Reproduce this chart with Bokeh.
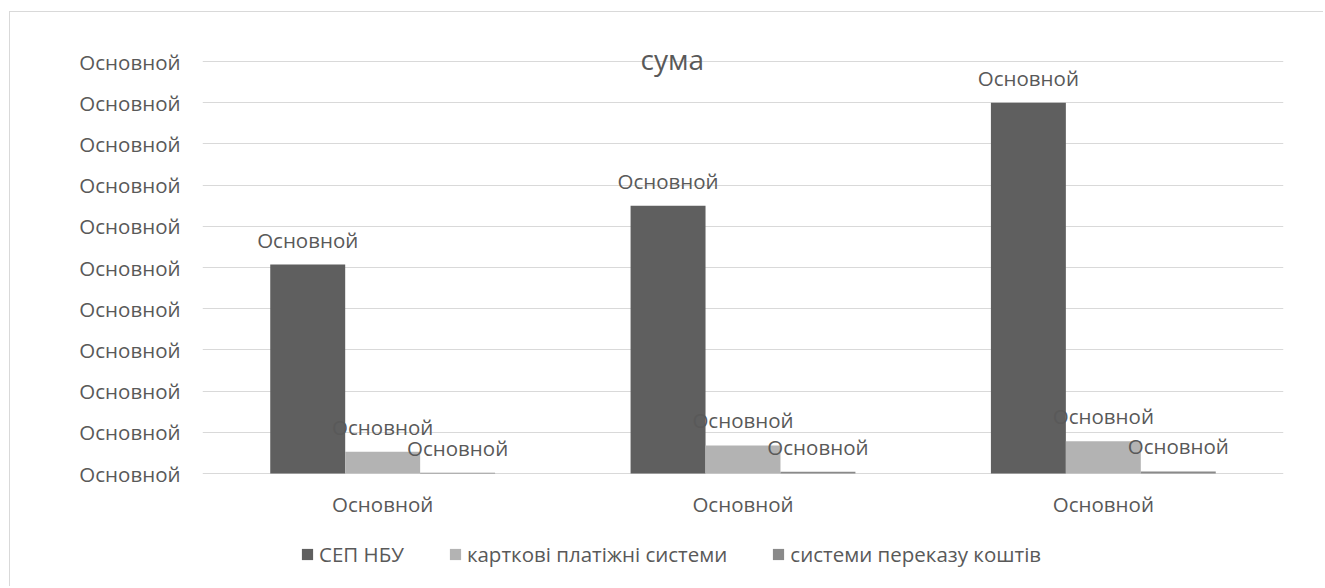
from bokeh.plotting import figure
from bokeh.models import Range1d, FixedTicker, ColumnDataSource, LabelSet, Label, Legend, LegendItem
from bokeh.embed import file_html
from bokeh.resources import INLINE
from bokeh.core.properties import value

# ---- data ----
categories = ["Основной", "Основной", "Основной"]
series_names = ["СЕП НБУ", "карткові платіжні системи", "системи переказу коштів"]
sep_nbu = [5.07, 6.50, 9.00]
card_systems = [0.53, 0.68, 0.78]
transfer_systems = [0.02, 0.04, 0.05]
y_ticks = [0, 1, 2, 3, 4, 5, 6, 7, 8, 9, 10]
y_tick_labels = ["Основной"] * 11
data_label = "Основной"
title_text = "сума"

colors = ["#5f5f5f", "#b3b3b3", "#8a8a8a"]
text_color = "#595959"
FONT = "Open Sans"
FS = "20.5px"

# ---- layout (pixels, canvas coordinates) ----
W, H = 1314, 575
LEFT, RIGHT, TOP = 192, 41, 0
Y10_PX, Y0_PX = 49, 461          # pixel rows of value 10 and value 0
ppu = (Y0_PX - Y10_PX) / 10.0      # pixels per unit
y_top = 10 + (Y10_PX - TOP) / ppu
y_bot = -(H - Y0_PX) / ppu

p = figure(width=W, height=H, output_backend="svg", toolbar_location=None,
           x_range=Range1d(0, 3), y_range=Range1d(y_bot, y_top),
           min_border_left=LEFT, min_border_right=RIGHT, min_border_top=TOP,
           min_border_bottom=0)
p.margin = (11, 0, 0, 9)
p.styles = {"border-top": "1px solid #d9d9d9", "border-left": "1px solid #d9d9d9"}
p.outline_line_color = None
p.background_fill_color = "white"

xs = [i + 0.5 for i in range(len(categories))]
bw = 0.208
offsets = [-bw, 0.0, bw]
all_series = [sep_nbu, card_systems, transfer_systems]

items = []
for k, (vals, name, col) in enumerate(zip(all_series, series_names, colors)):
    src = ColumnDataSource(dict(x=[x + offsets[k] for x in xs], top=vals,
                                lab=[data_label] * len(vals)))
    r = p.vbar(x="x", top="top", width=bw, source=src, fill_color=col, line_color=None)
    items.append(LegendItem(label=name, renderers=[r]))
    ls = LabelSet(x="x", y="top", text="lab", source=src, text_align="center",
                  text_baseline="bottom", y_offset=11, text_font=value(FONT),
                  text_font_size=FS, text_color=text_color)
    p.add_layout(ls)

# category labels under the groups
cat_src = ColumnDataSource(dict(x=xs, y=[0] * len(xs), lab=categories))
p.add_layout(LabelSet(x="x", y="y", text="lab", source=cat_src, text_align="center",
                      text_baseline="middle", y_offset=-30, text_font=value(FONT),
                      text_font_size=FS, text_color=text_color))
p.xaxis.visible = False

# y axis
p.yaxis.ticker = FixedTicker(ticks=y_ticks)
p.yaxis.major_label_overrides = {t: l for t, l in zip(y_ticks, y_tick_labels)}
p.yaxis.axis_line_color = None
p.yaxis.major_tick_line_color = None
p.yaxis.minor_tick_line_color = None
p.yaxis.major_label_standoff = 16
p.yaxis.major_label_text_font = FONT
p.yaxis.major_label_text_font_size = FS
p.yaxis.major_label_text_color = text_color

p.xgrid.grid_line_color = None
p.ygrid.grid_line_color = "#d9d9d9"
p.ygrid.grid_line_width = 1

# title drawn over the top gridline
p.add_layout(Label(x=1.304, y=10.07, text=title_text, text_align="center",
                   text_baseline="middle", text_font=FONT,
                   text_font_size="28px", text_color=text_color))

legend = Legend(items=items, orientation="horizontal", location=(98, 19),
                label_text_font=FONT, label_text_font_size=FS,
                label_text_color=text_color, glyph_width=14, glyph_height=14,
                label_standoff=5, spacing=44, border_line_color=None,
                padding=4, margin=0, background_fill_alpha=0)
p.add_layout(legend)

open("out.html", "w").write(file_html(p, INLINE))
